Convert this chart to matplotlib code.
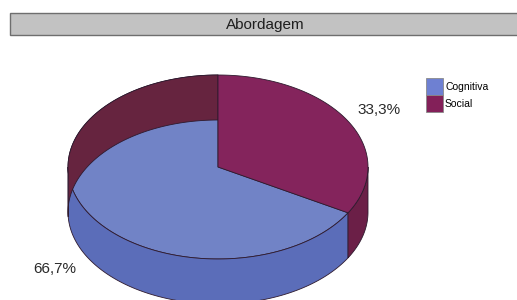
import numpy as np
import matplotlib
matplotlib.use("Agg")
import matplotlib.pyplot as plt
from matplotlib.patches import Polygon, Rectangle, Patch

plt.rcParams['font.family'] = ['Liberation Sans', 'DejaVu Sans']

# ---- data ----
title = "Abordagem"
categories = ["Cognitiva", "Social"]
values = [66.7, 33.3]
value_labels = ["66,7%", "33,3%"]

# ---- style ----
top_colors = ["#7183C6", "#84245C"]
side_colors = ["#5B6DB9", "#6B1F47"]
legend_colors = ["#6E80D2", "#832059"]
back_wall_color = "#66243F"
edge = "#2E1A2E"

W, H = 517, 300
fig = plt.figure(figsize=(W / 100, H / 100), dpi=100)
ax = fig.add_axes([0, 0, 1, 1])
ax.set_xlim(0, W)
ax.set_ylim(H, 0)
ax.axis("off")

# title bar
ax.add_patch(Rectangle((9.5, 13), 520, 22, facecolor="#C2C2C2", edgecolor="#6E6E6E", lw=1.0))
ax.text(265, 24.5, title, ha="center", va="center", fontsize=11, color="#1E1E1E")

# 3D pie geometry
cx, cy, a, b, depth = 218, 167, 150, 92, 45
start = 90.0


def pt(t, z=0.0):
    r = np.radians(t)
    return cx + a * np.cos(r), cy - b * np.sin(r) + z


def arc(t1, t2, z=0.0, n=120):
    ts = np.linspace(t1, t2, n)
    return [pt(t, z) for t in ts]


def top_sector(t1, t2, color, zo):
    poly = [(cx, cy)] + arc(t1, t2)
    ax.add_patch(Polygon(poly, closed=True, facecolor=color, edgecolor=edge, lw=0.6, zorder=zo))


def wall(t1, t2, color, zo):
    if t2 <= t1:
        return
    poly = arc(t1, t2) + arc(t2, t1, depth)
    ax.add_patch(Polygon(poly, closed=True, facecolor=color, edgecolor=edge, lw=0.6, zorder=zo))


total = sum(values)
angles = []
t = start
for v in values:
    span = 360.0 * v / total
    angles.append((t, t + span))
    t += span

(b1, b2), (m1, m2) = angles
# 1. top face of Cognitiva
top_sector(b1, b2, top_colors[0], 1)

# 2. front walls
for (t1, t2), col in zip(angles, side_colors):
    lo = max(t1, 180.0)
    hi = min(t2, 360.0)
    wall(lo, hi, col, 2)

# 3. back wall (as drawn in the original)
wall(b1, 183.0, back_wall_color, 3)

# 4. top face of Social slice
top_sector(m1, m2, top_colors[1], 4)

# value labels
k = 1.24
for (t1, t2), lab in zip(angles, value_labels):
    mid = (t1 + t2) / 2.0
    r = np.radians(mid)
    x = cx + a * k * np.cos(r)
    y = cy - b * k * np.sin(r) + (depth if np.sin(r) < 0 else 0)
    ax.text(x - (2 if np.cos(r) < 0 else 0), y, lab, ha="center", va="center",
            fontsize=11, color="#2A2A2A", zorder=6)

# legend
handles = [Patch(facecolor=c, edgecolor="#8A8A8A", lw=0.6, label=l) for c, l in zip(legend_colors, categories)]
fig.legend(handles=handles, loc="upper left", bbox_to_anchor=(419 / W, 1 - 71 / H),
           frameon=False, fontsize=7.5, handlelength=1.6, handleheight=2.1,
           handletextpad=0.2, labelspacing=0.0, borderpad=0.2)

fig.savefig("out.png", dpi=100)
